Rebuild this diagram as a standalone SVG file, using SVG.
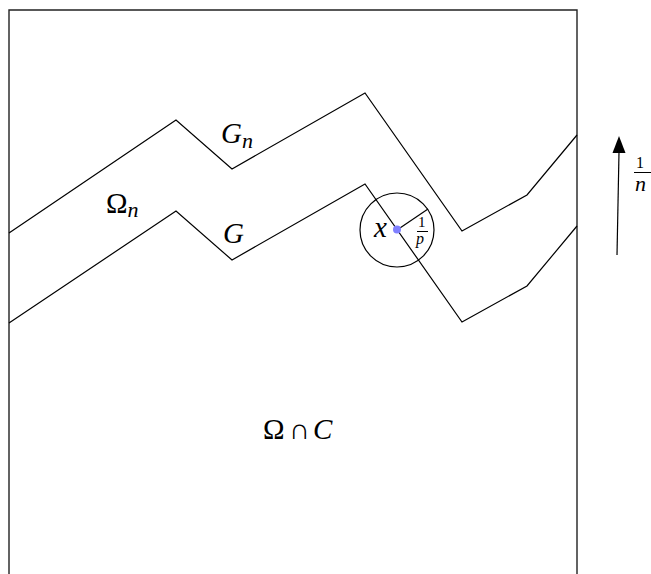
<svg xmlns="http://www.w3.org/2000/svg" width="651" height="574" viewBox="0 0 651 574">
<defs>
<style>
.ln{fill:none;stroke:#000;stroke-width:1.2;stroke-linejoin:miter}
.box{fill:none;stroke:#222;stroke-width:1.4}
.t{font-family:"Liberation Serif","Times New Roman",serif;fill:#000}
.i{font-style:italic}
</style>
</defs>
<rect width="651" height="574" fill="#fff"/>
<g id="region">
<path class="box" d="M9,574 V10 H577 V574"/>
</g>
<g id="connectors">
<polyline id="Gn" class="ln" points="9,233 176,120 232,169 365,93 462,231 527,195 577,135"/>
<polyline id="G" class="ln" points="9,323 176,211 232,260 365,184 462,322 527,286 577,226"/>
<line class="ln" x1="617" y1="255" x2="619" y2="152" stroke-width="1.3"/>
<path d="M612.5,153 L619,136 L625.5,153 Z" fill="#000"/>
</g>
<g id="ball">
<circle cx="397" cy="230" r="37" class="ln"/>
<line class="ln" x1="397" y1="230" x2="428" y2="209"/>
<circle cx="397" cy="229.5" r="4" fill="#8080ff"/>
<text class="t i" x="374" y="237" font-size="29">x</text>
<text class="t" x="418" y="227" font-size="15">1</text>
<line x1="417" y1="231.5" x2="428" y2="231.5" stroke="#000" stroke-width="1"/>
<text class="t i" x="416" y="244" font-size="16">p</text>
</g>
<g id="labels">
<text class="t i" x="221" y="143" font-size="29">G<tspan font-size="22" dy="5">n</tspan></text>
<text class="t" x="106" y="213" font-size="29">Ω<tspan class="i" font-size="22" dy="4">n</tspan></text>
<text class="t i" x="223" y="243" font-size="29">G</text>
<text class="t" x="263" y="439" font-size="29">Ω</text>
<text class="t" x="289" y="439" font-size="29">∩</text>
<text class="t i" x="313" y="439" font-size="29">C</text>
</g>
<g id="scale">
<text class="t" x="636" y="168" font-size="16">1</text>
<line x1="634" y1="172.5" x2="651" y2="172.5" stroke="#000" stroke-width="1"/>
<text class="t i" x="635" y="191" font-size="22">n</text>
</g>
</svg>
